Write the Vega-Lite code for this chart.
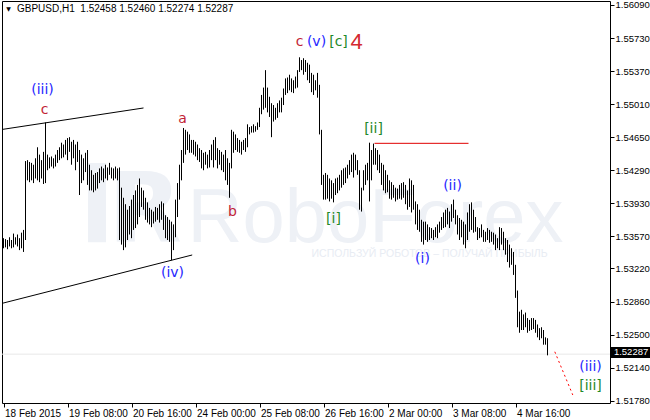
{
  "$schema": "https://vega.github.io/schema/vega-lite/v6.json",
  "width": 608,
  "height": 402,
  "autosize": {"type": "none"},
  "padding": {"left": 2, "top": 1, "right": 40, "bottom": 17},
  "background": "white",
  "config": {
    "view": {"stroke": "black", "strokeWidth": 1},
    "axis": {"domain": false, "grid": false, "tickColor": "black", "tickSize": 4, "labelColor": "black", "labelFont": "Liberation Sans", "labelFontSize": 10, "labelOverlap": false, "labelFlush": false, "title": null},
    "axisY": {"labelOverlap": false, "labelFontSize": 9.5}
  },
  "datasets": {
    "bars": [
      {"i":0,"price":1.5355,"low":1.5344},{"i":1,"price":1.5354,"low":1.5345},{"i":2,"price":1.5353,"low":1.5343},{"i":3,"price":1.5356,"low":1.5346},{"i":4,"price":1.5353,"low":1.5344},
      {"i":5,"price":1.5360,"low":1.5345},{"i":6,"price":1.5356,"low":1.5348},{"i":7,"price":1.5359,"low":1.5346},{"i":8,"price":1.5355,"low":1.5342},{"i":9,"price":1.5361,"low":1.5344},
      {"i":10,"price":1.5364,"low":1.5340},{"i":11,"price":1.5439,"low":1.5353},{"i":12,"price":1.5440,"low":1.5418},{"i":13,"price":1.5438,"low":1.5416},{"i":14,"price":1.5437,"low":1.5418},
      {"i":15,"price":1.5435,"low":1.5415},{"i":16,"price":1.5442,"low":1.5420},{"i":17,"price":1.5454,"low":1.5418},{"i":18,"price":1.5446,"low":1.5416},{"i":19,"price":1.5440,"low":1.5420},
      {"i":20,"price":1.5449,"low":1.5414},{"i":21,"price":1.5481,"low":1.5415},{"i":22,"price":1.5446,"low":1.5429},{"i":23,"price":1.5443,"low":1.5431},{"i":24,"price":1.5444,"low":1.5433},
      {"i":25,"price":1.5442,"low":1.5431},{"i":26,"price":1.5446,"low":1.5433},{"i":27,"price":1.5451,"low":1.5437},{"i":28,"price":1.5454,"low":1.5440},{"i":29,"price":1.5459,"low":1.5442},
      {"i":30,"price":1.5457,"low":1.5443},{"i":31,"price":1.5462,"low":1.5446},{"i":32,"price":1.5464,"low":1.5440},{"i":33,"price":1.5465,"low":1.5449},{"i":34,"price":1.5460,"low":1.5435},
      {"i":35,"price":1.5462,"low":1.5442},{"i":36,"price":1.5457,"low":1.5429},{"i":37,"price":1.5460,"low":1.5438},{"i":38,"price":1.5451,"low":1.5402},{"i":39,"price":1.5446,"low":1.5415},
      {"i":40,"price":1.5442,"low":1.5418},{"i":41,"price":1.5448,"low":1.5427},{"i":42,"price":1.5451,"low":1.5413},{"i":43,"price":1.5435,"low":1.5407},{"i":44,"price":1.5429,"low":1.5407},
      {"i":45,"price":1.5424,"low":1.5405},{"i":46,"price":1.5426,"low":1.5407},{"i":47,"price":1.5427,"low":1.5409},{"i":48,"price":1.5431,"low":1.5415},{"i":49,"price":1.5433,"low":1.5418},
      {"i":50,"price":1.5431,"low":1.5416},{"i":51,"price":1.5435,"low":1.5420},{"i":52,"price":1.5432,"low":1.5418},{"i":53,"price":1.5437,"low":1.5424},{"i":54,"price":1.5432,"low":1.5420},
      {"i":55,"price":1.5431,"low":1.5418},{"i":56,"price":1.5433,"low":1.5420},{"i":57,"price":1.5431,"low":1.5418},{"i":58,"price":1.5432,"low":1.5353},{"i":59,"price":1.5410,"low":1.5348},
      {"i":60,"price":1.5399,"low":1.5342},{"i":61,"price":1.5392,"low":1.5345},{"i":62,"price":1.5386,"low":1.5353},{"i":63,"price":1.5390,"low":1.5359},{"i":64,"price":1.5397,"low":1.5355},
      {"i":65,"price":1.5402,"low":1.5364},{"i":66,"price":1.5407,"low":1.5366},{"i":67,"price":1.5413,"low":1.5370},{"i":68,"price":1.5420,"low":1.5378},{"i":69,"price":1.5410,"low":1.5389},
      {"i":70,"price":1.5407,"low":1.5386},{"i":71,"price":1.5399,"low":1.5375},{"i":72,"price":1.5394,"low":1.5372},{"i":73,"price":1.5388,"low":1.5370},{"i":74,"price":1.5386,"low":1.5367},
      {"i":75,"price":1.5384,"low":1.5371},{"i":76,"price":1.5389,"low":1.5373},{"i":77,"price":1.5388,"low":1.5375},{"i":78,"price":1.5392,"low":1.5372},{"i":79,"price":1.5395,"low":1.5375},
      {"i":80,"price":1.5393,"low":1.5364},{"i":81,"price":1.5380,"low":1.5355},{"i":82,"price":1.5378,"low":1.5353},{"i":83,"price":1.5375,"low":1.5351},{"i":84,"price":1.5373,"low":1.5331},
      {"i":85,"price":1.5370,"low":1.5342},{"i":86,"price":1.5397,"low":1.5356},{"i":87,"price":1.5415,"low":1.5378},{"i":88,"price":1.5435,"low":1.5397},{"i":89,"price":1.5451,"low":1.5418},
      {"i":90,"price":1.5475,"low":1.5437},{"i":91,"price":1.5473,"low":1.5446},{"i":92,"price":1.5471,"low":1.5451},{"i":93,"price":1.5468,"low":1.5448},{"i":94,"price":1.5462,"low":1.5448},
      {"i":95,"price":1.5462,"low":1.5446},{"i":96,"price":1.5460,"low":1.5444},{"i":97,"price":1.5457,"low":1.5440},{"i":98,"price":1.5453,"low":1.5438},{"i":99,"price":1.5451,"low":1.5431},
      {"i":100,"price":1.5448,"low":1.5429},{"i":101,"price":1.5449,"low":1.5435},{"i":102,"price":1.5446,"low":1.5431},{"i":103,"price":1.5451,"low":1.5432},{"i":104,"price":1.5457,"low":1.5440},
      {"i":105,"price":1.5462,"low":1.5432},{"i":106,"price":1.5465,"low":1.5440},{"i":107,"price":1.5453,"low":1.5431},{"i":108,"price":1.5451,"low":1.5435},{"i":109,"price":1.5449,"low":1.5429},
      {"i":110,"price":1.5446,"low":1.5427},{"i":111,"price":1.5451,"low":1.5418},{"i":112,"price":1.5442,"low":1.5413},{"i":113,"price":1.5437,"low":1.5399},{"i":114,"price":1.5473,"low":1.5431},
      {"i":115,"price":1.5471,"low":1.5448},{"i":116,"price":1.5468,"low":1.5451},{"i":117,"price":1.5464,"low":1.5449},{"i":118,"price":1.5462,"low":1.5448},{"i":119,"price":1.5460,"low":1.5446},
      {"i":120,"price":1.5462,"low":1.5451},{"i":121,"price":1.5464,"low":1.5449},{"i":122,"price":1.5479,"low":1.5454},{"i":123,"price":1.5476,"low":1.5468},{"i":124,"price":1.5477,"low":1.5470},
      {"i":125,"price":1.5479,"low":1.5470},{"i":126,"price":1.5477,"low":1.5471},{"i":127,"price":1.5481,"low":1.5473},{"i":128,"price":1.5497,"low":1.5476},{"i":129,"price":1.5511,"low":1.5490},
      {"i":130,"price":1.5519,"low":1.5495},{"i":131,"price":1.5538,"low":1.5497},{"i":132,"price":1.5519,"low":1.5492},{"i":133,"price":1.5509,"low":1.5487},{"i":134,"price":1.5502,"low":1.5465},
      {"i":135,"price":1.5500,"low":1.5482},{"i":136,"price":1.5497,"low":1.5484},{"i":137,"price":1.5502,"low":1.5486},{"i":138,"price":1.5505,"low":1.5492},{"i":139,"price":1.5508,"low":1.5492},
      {"i":140,"price":1.5518,"low":1.5500},{"i":141,"price":1.5529,"low":1.5511},{"i":142,"price":1.5530,"low":1.5513},{"i":143,"price":1.5533,"low":1.5516},{"i":144,"price":1.5529,"low":1.5514},
      {"i":145,"price":1.5527,"low":1.5513},{"i":146,"price":1.5531,"low":1.5518},{"i":147,"price":1.5538,"low":1.5519},{"i":148,"price":1.5552,"low":1.5536},{"i":149,"price":1.5549,"low":1.5538},
      {"i":150,"price":1.5551,"low":1.5533},{"i":151,"price":1.5549,"low":1.5536},{"i":152,"price":1.5546,"low":1.5527},{"i":153,"price":1.5544,"low":1.5524},{"i":154,"price":1.5535,"low":1.5514},
      {"i":155,"price":1.5533,"low":1.5511},{"i":156,"price":1.5527,"low":1.5516},{"i":157,"price":1.5535,"low":1.5508},{"i":158,"price":1.5522,"low":1.5468},{"i":159,"price":1.5473,"low":1.5413},
      {"i":160,"price":1.5424,"low":1.5397},{"i":161,"price":1.5426,"low":1.5397},{"i":162,"price":1.5424,"low":1.5398},{"i":163,"price":1.5420,"low":1.5395},{"i":164,"price":1.5418,"low":1.5398},
      {"i":165,"price":1.5415,"low":1.5394},{"i":166,"price":1.5420,"low":1.5402},{"i":167,"price":1.5421,"low":1.5404},{"i":168,"price":1.5424,"low":1.5407},{"i":169,"price":1.5429,"low":1.5410},
      {"i":170,"price":1.5431,"low":1.5413},{"i":171,"price":1.5432,"low":1.5415},{"i":172,"price":1.5435,"low":1.5420},{"i":173,"price":1.5440,"low":1.5424},{"i":174,"price":1.5446,"low":1.5427},
      {"i":175,"price":1.5448,"low":1.5421},{"i":176,"price":1.5446,"low":1.5429},{"i":177,"price":1.5440,"low":1.5424},{"i":178,"price":1.5429,"low":1.5386},{"i":179,"price":1.5410,"low":1.5384},
      {"i":180,"price":1.5429,"low":1.5407},{"i":181,"price":1.5435,"low":1.5413},{"i":182,"price":1.5437,"low":1.5418},{"i":183,"price":1.5459,"low":1.5395},{"i":184,"price":1.5451,"low":1.5418},
      {"i":185,"price":1.5458,"low":1.5435},{"i":186,"price":1.5453,"low":1.5435},{"i":187,"price":1.5451,"low":1.5429},{"i":188,"price":1.5446,"low":1.5426},{"i":189,"price":1.5437,"low":1.5413},
      {"i":190,"price":1.5435,"low":1.5407},{"i":191,"price":1.5429,"low":1.5404},{"i":192,"price":1.5424,"low":1.5405},{"i":193,"price":1.5418,"low":1.5398},{"i":194,"price":1.5416,"low":1.5397},
      {"i":195,"price":1.5413,"low":1.5399},{"i":196,"price":1.5410,"low":1.5395},{"i":197,"price":1.5409,"low":1.5397},{"i":198,"price":1.5413,"low":1.5398},{"i":199,"price":1.5415,"low":1.5397},
      {"i":200,"price":1.5416,"low":1.5399},{"i":201,"price":1.5413,"low":1.5392},{"i":202,"price":1.5407,"low":1.5386},{"i":203,"price":1.5420,"low":1.5389},{"i":204,"price":1.5418,"low":1.5383},
      {"i":205,"price":1.5413,"low":1.5386},{"i":206,"price":1.5395,"low":1.5370},{"i":207,"price":1.5392,"low":1.5364},{"i":208,"price":1.5386,"low":1.5362},{"i":209,"price":1.5375,"low":1.5351},
      {"i":210,"price":1.5373,"low":1.5348},{"i":211,"price":1.5373,"low":1.5353},{"i":212,"price":1.5370,"low":1.5351},{"i":213,"price":1.5367,"low":1.5353},{"i":214,"price":1.5366,"low":1.5355},
      {"i":215,"price":1.5364,"low":1.5353},{"i":216,"price":1.5367,"low":1.5356},{"i":217,"price":1.5370,"low":1.5355},{"i":218,"price":1.5373,"low":1.5361},{"i":219,"price":1.5378,"low":1.5364},
      {"i":220,"price":1.5383,"low":1.5366},{"i":221,"price":1.5386,"low":1.5367},{"i":222,"price":1.5388,"low":1.5370},{"i":223,"price":1.5384,"low":1.5366},{"i":224,"price":1.5392,"low":1.5373},
      {"i":225,"price":1.5397,"low":1.5377},{"i":226,"price":1.5386,"low":1.5370},{"i":227,"price":1.5380,"low":1.5359},{"i":228,"price":1.5377,"low":1.5353},{"i":229,"price":1.5375,"low":1.5356},
      {"i":230,"price":1.5373,"low":1.5348},{"i":231,"price":1.5370,"low":1.5344},{"i":232,"price":1.5383,"low":1.5353},{"i":233,"price":1.5392,"low":1.5362},{"i":234,"price":1.5394,"low":1.5364},
      {"i":235,"price":1.5386,"low":1.5361},{"i":236,"price":1.5378,"low":1.5362},{"i":237,"price":1.5367,"low":1.5353},{"i":238,"price":1.5366,"low":1.5355},{"i":239,"price":1.5370,"low":1.5356},
      {"i":240,"price":1.5364,"low":1.5351},{"i":241,"price":1.5362,"low":1.5351},{"i":242,"price":1.5366,"low":1.5353},{"i":243,"price":1.5364,"low":1.5350},{"i":244,"price":1.5362,"low":1.5351},
      {"i":245,"price":1.5361,"low":1.5348},{"i":246,"price":1.5359,"low":1.5342},{"i":247,"price":1.5355,"low":1.5344},{"i":248,"price":1.5367,"low":1.5342},{"i":249,"price":1.5366,"low":1.5348},
      {"i":250,"price":1.5362,"low":1.5342},{"i":251,"price":1.5355,"low":1.5337},{"i":252,"price":1.5353,"low":1.5329},{"i":253,"price":1.5348,"low":1.5323},{"i":254,"price":1.5344,"low":1.5326},
      {"i":255,"price":1.5340,"low":1.5315},{"i":256,"price":1.5326,"low":1.5290},{"i":257,"price":1.5298,"low":1.5258},{"i":258,"price":1.5275,"low":1.5252},{"i":259,"price":1.5277,"low":1.5255},
      {"i":260,"price":1.5272,"low":1.5255},{"i":261,"price":1.5274,"low":1.5258},{"i":262,"price":1.5268,"low":1.5252},{"i":263,"price":1.5266,"low":1.5254},{"i":264,"price":1.5268,"low":1.5255},
      {"i":265,"price":1.5268,"low":1.5256},{"i":266,"price":1.5266,"low":1.5252},{"i":267,"price":1.5261,"low":1.5247},{"i":268,"price":1.5257,"low":1.5244},{"i":269,"price":1.5258,"low":1.5246},
      {"i":270,"price":1.5255,"low":1.5239},{"i":271,"price":1.5247,"low":1.5239},{"i":272,"price":1.5246,"low":1.52274}
    ],
    "trend": [
      {"line":"upper","i":-0.75,"price":1.54734},{"line":"upper","i":70,"price":1.54968},
      {"line":"lower","i":-0.75,"price":1.5284},{"line":"lower","i":94.35,"price":1.53367}
    ],
    "current": [{"i":-0.75,"price":1.52287},{"i":303.25,"price":1.52287}],
    "level": [{"i":185.5,"price":1.54583},{"i":232.5,"price":1.54583}],
    "projection": [{"i":275.65,"price":1.52313},{"i":284.65,"price":1.51842}],
    "waves": [
      {"t":"(iii)","i":19.5,"price":1.55164,"d":"minuette"},
      {"t":"c","i":20.5,"price":1.54946,"d":"subminuette"},
      {"t":"a","i":89.5,"price":1.54848,"d":"subminuette"},
      {"t":"b","i":114.5,"price":1.53835,"d":"subminuette"},
      {"t":"(iv)","i":84.5,"price":1.53171,"d":"minuette"},
      {"t":"c","i":148,"price":1.55687,"d":"subminuette"},
      {"t":"(v)","i":156.5,"price":1.55687,"d":"minuette"},
      {"t":"[c]","i":167.5,"price":1.55687,"d":"minute"},
      {"t":"4","i":176.5,"price":1.55687,"d":"minor"},
      {"t":"[ii]","i":185,"price":1.54739,"d":"minute"},
      {"t":"[i]","i":165,"price":1.53759,"d":"minute"},
      {"t":"(i)","i":209.5,"price":1.53323,"d":"minuette"},
      {"t":"(ii)","i":224.5,"price":1.54118,"d":"minuette"},
      {"t":"(iii)","i":293.5,"price":1.52147,"d":"minuette"},
      {"t":"[iii]","i":293.5,"price":1.5194,"d":"minute"}
    ]
  },
  "encoding": {
    "x": {"field":"i","type":"quantitative","scale":{"domain":[-0.75,303.25],"nice":false,"zero":false},
      "axis": {"orient":"bottom","values":[0,32,64,96,128,160,192,224,256],"labelAlign":"left","labelOffset":1,"labelPadding":1,"labelOverlap":false,"labelFlush":false,
        "labelExpr":"['18 Feb 2015','19 Feb 08:00','20 Feb 16:00','24 Feb 00:00','25 Feb 08:00','26 Feb 16:00','2 Mar 00:00','3 Mar 08:00','4 Mar 16:00'][round(datum.value/32)]"}},
    "y": {"field":"price","type":"quantitative","scale":{"domain":[1.51755,1.56133],"nice":false,"zero":false},
      "axis": {"orient":"right","values":[1.5609,1.5573,1.5537,1.5501,1.5465,1.5429,1.5393,1.5357,1.5322,1.5286,1.525,1.5214,1.5178],"format":".5f","labelPadding":1,"labelOverlap":false,"labelFlush":false}}
  },
  "layer": [
    {
      "data": {"values": [{"i":42.25,"i1":51.25,"price":1.54369,"p1":1.53505}]},
      "mark": {"type":"rect","color":"#eef1f6"},
      "encoding": {"x2": {"field":"i1"}, "y2": {"field":"p1"}}
    },
    {
      "data": {"values": [{"t":"R","i":52.25,"price":1.53508}]},
      "mark": {"type":"text","align":"left","baseline":"alphabetic","font":"DejaVu Sans","fontWeight":"bold","fontSize":96,"color":"#eef1f6"},
      "encoding": {"text": {"field":"t"}}
    },
    {
      "data": {"values": [{"t":"RoboForex","i":92,"price":1.53508}]},
      "mark": {"type":"text","align":"left","baseline":"alphabetic","font":"Liberation Sans","fontSize":76,"color":"#eef1f6"},
      "encoding": {"text": {"field":"t"}}
    },
    {
      "data": {"values": [{"t":"ИСПОЛЬЗУЙ РОБОТОВ – ПОЛУЧАЙ ПРИБЫЛЬ","i":154,"price":1.53377}]},
      "mark": {"type":"text","align":"left","baseline":"middle","font":"Liberation Sans","fontSize":10.5,"color":"#e8ecf3"},
      "encoding": {"text": {"field":"t"}}
    },
    {
      "data": {"name": "current"},
      "mark": {"type":"line","color":"#e8e8e8","strokeWidth":1},
      "encoding": {}
    },
    {
      "data": {"name": "bars"},
      "mark": {"type":"rule","color":"black","strokeWidth":1},
      "encoding": {"y2": {"field":"low"}}
    },
    {
      "data": {"name": "trend"},
      "mark": {"type":"line","color":"black","strokeWidth":1},
      "encoding": {"detail": {"field":"line"}}
    },
    {
      "data": {"name": "level"},
      "mark": {"type":"line","color":"#e00000","strokeWidth":1},
      "encoding": {}
    },
    {
      "data": {"name": "projection"},
      "mark": {"type":"line","color":"#ff0000","strokeWidth":1,"strokeDash":[2,3]},
      "encoding": {}
    },
    {
      "data": {"name": "waves"},
      "transform": [{"filter":"datum.d == 'minuette'"}],
      "mark": {"type":"text","align":"center","baseline":"middle","font":"DejaVu Sans","fontSize":14,"color":"#2626ff"},
      "encoding": {"text": {"field":"t"}}
    },
    {
      "data": {"name": "waves"},
      "transform": [{"filter":"datum.d == 'minute'"}],
      "mark": {"type":"text","align":"center","baseline":"middle","font":"DejaVu Sans","fontSize":14,"color":"#1f8a2a"},
      "encoding": {"text": {"field":"t"}}
    },
    {
      "data": {"name": "waves"},
      "transform": [{"filter":"datum.d == 'subminuette'"}],
      "mark": {"type":"text","align":"center","baseline":"middle","font":"DejaVu Sans","fontSize":14,"color":"#c21f36"},
      "encoding": {"text": {"field":"t"}}
    },
    {
      "data": {"name": "waves"},
      "transform": [{"filter":"datum.d == 'minor'"}],
      "mark": {"type":"text","align":"center","baseline":"middle","font":"Liberation Sans","fontSize":22,"color":"#d42a30"},
      "encoding": {"text": {"field":"t"}}
    },
    {
      "data": {"values": [{"i":303.75,"i1":323.5,"price":1.52364,"p1":1.52245}]},
      "mark": {"type":"rect","color":"black"},
      "encoding": {"x2": {"field":"i1"}, "y2": {"field":"p1"}}
    },
    {
      "data": {"values": [{"t":"1.52287","i":305.2,"price":1.52305}]},
      "mark": {"type":"text","align":"left","baseline":"middle","font":"Liberation Sans","fontSize":9.5,"color":"white"},
      "encoding": {"text": {"field":"t"}}
    },
    {
      "data": {"values": [{"t":"GBPUSD,H1\u00a0\u00a01.52458 1.52460 1.52274 1.52287","i":6.75,"price":1.56046}]},
      "mark": {"type":"text","align":"left","baseline":"middle","font":"Liberation Sans","fontSize":10,"color":"black"},
      "encoding": {"text": {"field":"t"}}
    },
    {
      "data": {"values": [{"t":"▼","i":2.5,"price":1.56046}]},
      "mark": {"type":"text","align":"center","baseline":"middle","font":"DejaVu Sans","fontSize":6,"color":"black"},
      "encoding": {"text": {"field":"t"}}
    }
  ]
}
